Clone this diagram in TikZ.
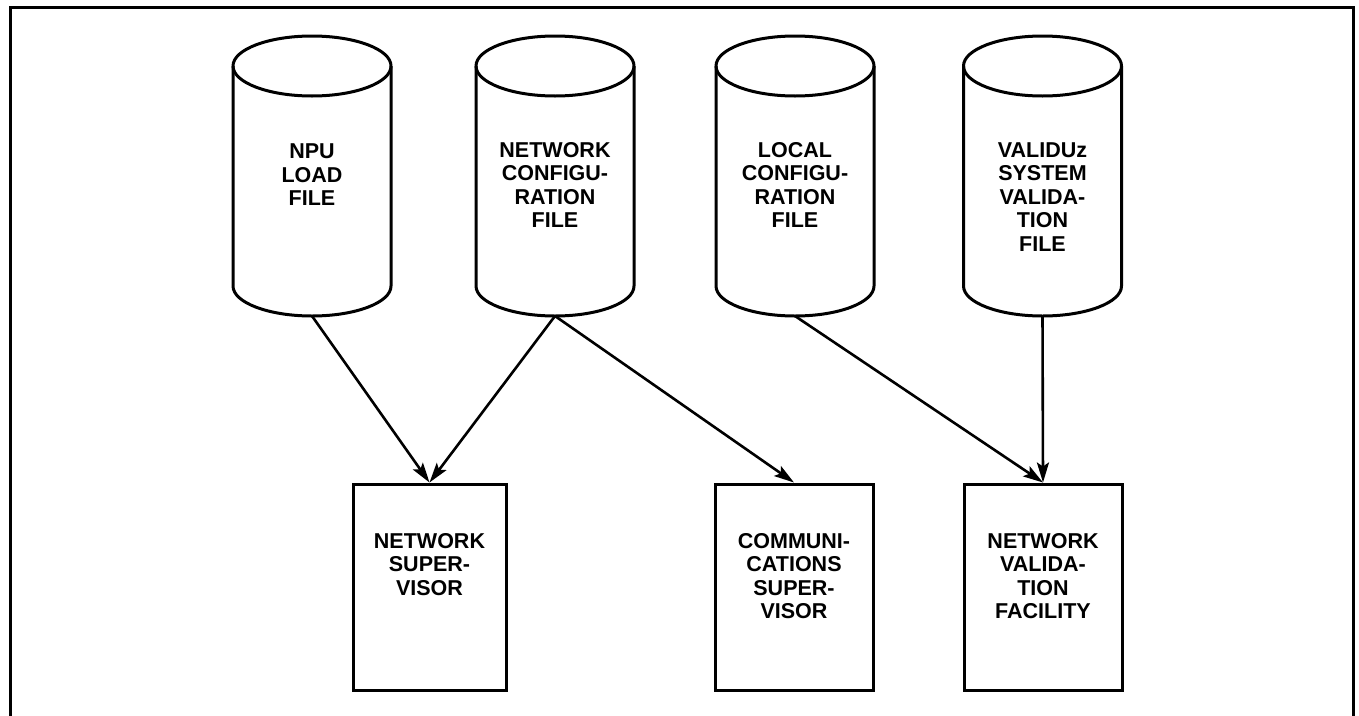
\documentclass[tikz,border=0pt]{standalone}
\usepackage{fontspec}
\setmainfont{Liberation Sans}
\usetikzlibrary{arrows.meta}
\begin{document}
\begin{tikzpicture}[x=1pt,y=-1pt,
  outline/.style={line width=3pt, line join=round},
  lbl/.style={align=center, inner sep=0pt, font=\bfseries\fontsize{21.5}{23.5}\selectfont},
  procbox/.style={draw, line width=3pt, rectangle, inner sep=0pt, minimum height=206pt},
  flow/.style={line width=2.6pt, -{Stealth[length=20pt,width=12pt,inset=4pt]}}]
\useasboundingbox (0,0) rectangle (1359,715);
% frame
\draw[line width=3pt] (10,720) -- (10,7) -- (1353,7) -- (1353,720);
% cylinders
\foreach \cx/\nm in {312/npu,555/net,795/loc,1042.5/val}{
  \draw[outline] (\cx-79,66) -- (\cx-79,286) arc[start angle=180,end angle=0,x radius=79,y radius=30] -- (\cx+79,66);
  \draw[outline] (\cx,66) ellipse [x radius=79,y radius=30];
  \coordinate (\nm-b) at (\cx,316);
}
\node[lbl] (npu) at (312,175) {NPU\\LOAD\\FILE};
\node[lbl] (net) at (555,185) {NETWORK\\CONFIGU-\\RATION\\FILE};
\node[lbl] (loc) at (795,185) {LOCAL\\CONFIGU-\\RATION\\FILE};
\node[lbl] (val) at (1042.5,197) {VALIDUz\\SYSTEM\\VALIDA-\\TION\\FILE};
% boxes
\node[procbox, minimum width=153pt] (ns) at (429.5,587) {};
\node[procbox, minimum width=158pt] (cs) at (794,587) {};
\node[procbox, minimum width=158pt] (nvf) at (1043,587) {};
\node[lbl] (nst) at (429.5,564.5) {NETWORK\\SUPER-\\VISOR};
\node[lbl] (cst) at (794,576) {COMMUNI-\\CATIONS\\SUPER-\\VISOR};
\node[lbl] (nvft) at (1043,576) {NETWORK\\VALIDA-\\TION\\FACILITY};
% connectors
\draw[flow] (npu-b) -- (ns.north);
\draw[flow] (net-b) -- (ns.north);
\draw[flow] (net-b) -- (cs.north);
\draw[flow] (loc-b) -- (nvf.north);
\draw[flow] (val-b) -- (nvf.north);
\end{tikzpicture}
\end{document}
